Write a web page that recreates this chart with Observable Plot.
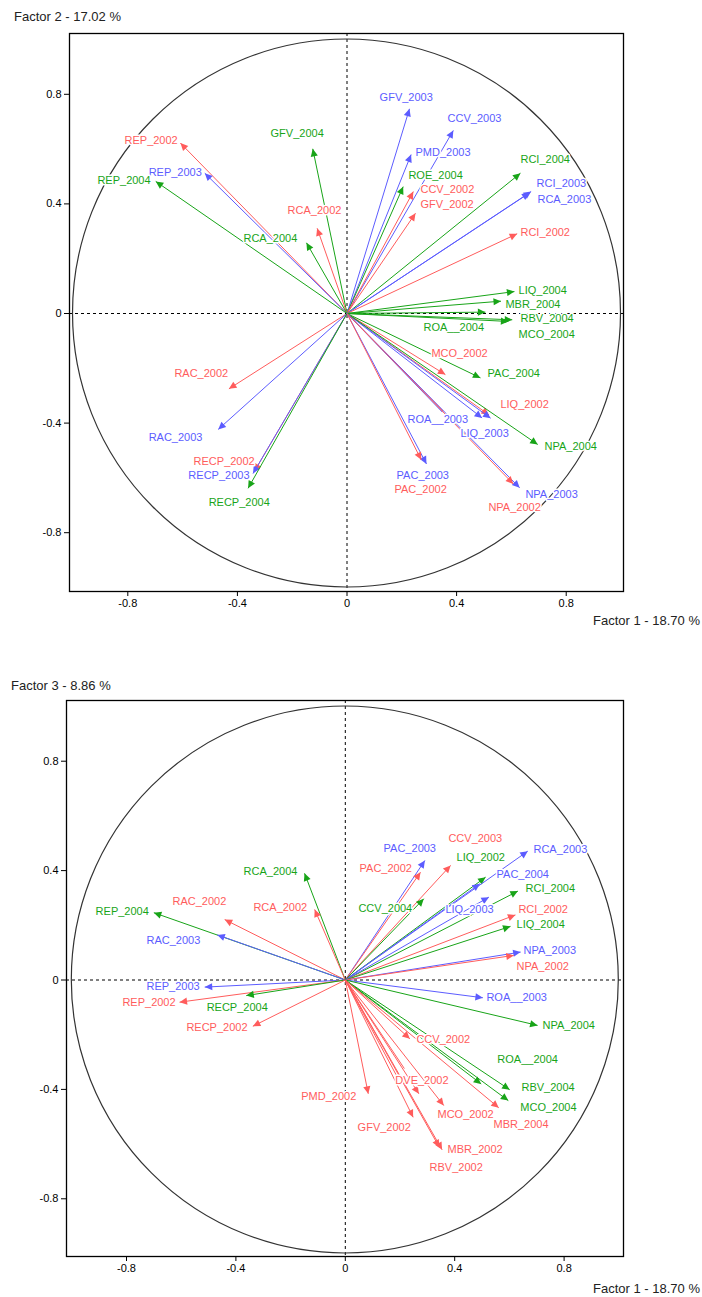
<!DOCTYPE html>
<html><head><meta charset="utf-8">
<script src="https://cdn.jsdelivr.net/npm/d3@7"></script>
<script src="https://cdn.jsdelivr.net/npm/@observablehq/plot@0.6"></script>
<style>
body{margin:0;background:#fff;}
#wrap{position:relative;width:702px;height:1297px;overflow:hidden;font-family:"Liberation Sans",Arial,sans-serif;}
.lab{position:absolute;font-size:13px;color:#222;white-space:nowrap;z-index:2;line-height:15px;}
.chart{position:absolute;left:0;}
</style></head><body>
<div id="wrap">
  <div class="chart" id="c1" style="top:0px"></div>
  <div class="chart" id="c2" style="top:660px"></div>
  <div class="lab" style="left:14px;top:9px">Factor 2 - 17.02 %</div>
  <div class="lab" style="right:2px;top:613px">Factor 1 - 18.70 %</div>
  <div class="lab" style="left:11px;top:678px">Factor 3 - 8.86 %</div>
  <div class="lab" style="right:2px;top:1281px">Factor 1 - 18.70 %</div>
</div>
<script>
// ---------- shared ----------
const groups = ["2002", "2003", "2004"];
const groupColors = ["#ff5c5c", "#5c5cff", "#18a418"];
const tickValues = [-0.8, -0.4, 0, 0.4, 0.8];

// ---------- chart 1 : Factor 1 x Factor 2 ----------
const names1 = ["REP_2002","REP_2003","REP_2004","GFV_2004","RCA_2002","RCA_2004","GFV_2003","CCV_2003","PMD_2003","ROE_2004","CCV_2002","GFV_2002","RCI_2004","RCI_2003","RCA_2003","RCI_2002","LIQ_2004","MBR_2004","ROA__2004","RBV_2004","MCO_2004","MCO_2002","PAC_2004","LIQ_2002","ROA__2003","LIQ_2003","NPA_2004","NPA_2003","NPA_2002","PAC_2003","PAC_2002","RAC_2002","RAC_2003","RECP_2002","RECP_2003","RECP_2004"];
const group1 = ["2002","2003","2004","2004","2002","2004","2003","2003","2003","2004","2002","2002","2004","2003","2003","2002","2004","2004","2004","2004","2004","2002","2004","2002","2003","2003","2004","2003","2002","2003","2002","2002","2003","2002","2003","2004"];
const f1_1 = [-0.608,-0.519,-0.698,-0.125,-0.109,-0.148,0.228,0.388,0.234,0.205,0.242,0.250,0.633,0.672,0.666,0.621,0.611,0.562,0.505,0.603,0.589,0.359,0.487,0.518,0.493,0.524,0.696,0.630,0.607,0.290,0.271,-0.431,-0.470,-0.338,-0.343,-0.361];
const f2_1 = [0.622,0.512,0.482,0.601,0.311,0.258,0.747,0.668,0.580,0.463,0.445,0.366,0.512,0.445,0.440,0.291,0.080,0.045,0.005,-0.023,-0.029,-0.223,-0.235,-0.370,-0.381,-0.382,-0.478,-0.636,-0.622,-0.549,-0.534,-0.275,-0.423,-0.576,-0.584,-0.638];
const labelX1 = [-0.812,-0.724,-0.911,-0.279,-0.217,-0.378,0.119,0.367,0.250,0.224,0.268,0.268,0.633,0.692,0.695,0.633,0.626,0.578,0.279,0.633,0.626,0.308,0.513,0.560,0.221,0.414,0.721,0.651,0.516,0.181,0.173,-0.630,-0.724,-0.560,-0.579,-0.505];
const labelY1 = [0.631,0.515,0.485,0.657,0.376,0.274,0.788,0.713,0.589,0.504,0.451,0.399,0.561,0.473,0.415,0.297,0.084,0.033,-0.051,-0.018,-0.078,-0.145,-0.218,-0.332,-0.387,-0.437,-0.485,-0.661,-0.707,-0.591,-0.642,-0.220,-0.451,-0.540,-0.591,-0.689];
// vectors whose heads are hidden under labels
const hidX1 = [0.352, 0.348];
const hidY1 = [-0.357, -0.360];
const hidG1 = ["2002", "2003"];

// ---------- chart 2 : Factor 1 x Factor 3 ----------
const names2 = ["RCA_2004","RCA_2002","RAC_2002","REP_2004","RAC_2003","REP_2003","REP_2002","RECP_2004","RECP_2002","PAC_2003","PAC_2002","CCV_2003","LIQ_2002","CCV_2004","RCA_2003","PAC_2004","RCI_2004","LIQ_2003","RCI_2002","LIQ_2004","NPA_2003","NPA_2002","ROA__2003","NPA_2004","CCV_2002","ROA__2004","RBV_2004","MCO_2004","MBR_2004","DVE_2002","MCO_2002","GFV_2002","MBR_2002","RBV_2002","PMD_2002"];
const group2 = ["2004","2002","2002","2004","2003","2003","2002","2004","2002","2003","2002","2002","2004","2004","2003","2003","2004","2003","2002","2004","2003","2002","2003","2004","2002","2004","2004","2004","2002","2002","2002","2002","2002","2002","2002"];
const f1_2 = [-0.149,-0.112,-0.441,-0.700,-0.468,-0.514,-0.606,-0.362,-0.338,0.291,0.275,0.385,0.513,0.287,0.667,0.492,0.631,0.525,0.622,0.604,0.641,0.616,0.503,0.703,0.236,0.497,0.601,0.596,0.561,0.269,0.360,0.248,0.354,0.344,0.084];
const f3_2 = [0.390,0.258,0.221,0.246,0.165,-0.026,-0.081,-0.057,-0.169,0.437,0.394,0.419,0.376,0.297,0.471,0.352,0.325,0.303,0.238,0.196,0.102,0.090,-0.065,-0.166,-0.215,-0.380,-0.401,-0.441,-0.467,-0.416,-0.459,-0.502,-0.621,-0.612,-0.416];
const labelX2 = [-0.372,-0.336,-0.632,-0.913,-0.727,-0.727,-0.815,-0.507,-0.581,0.140,0.052,0.377,0.407,0.048,0.688,0.553,0.659,0.366,0.633,0.626,0.652,0.626,0.516,0.721,0.260,0.556,0.644,0.640,0.542,0.183,0.337,0.045,0.374,0.308,-0.161];
const labelY2 = [0.398,0.266,0.287,0.252,0.144,-0.024,-0.081,-0.102,-0.173,0.482,0.407,0.518,0.449,0.263,0.476,0.386,0.333,0.257,0.257,0.202,0.108,0.050,-0.063,-0.166,-0.219,-0.292,-0.394,-0.467,-0.529,-0.367,-0.492,-0.538,-0.620,-0.684,-0.426];
const hidX2 = [0.187, 0.216];
const hidY2 = [-0.349, -0.324];
const hidG2 = ["2002", "2002"];

function corrCircle(cfg) {
  const arrows = cfg.names.map((n, i) => ({name: n, group: cfg.group[i], x: cfg.xs[i], y: cfg.ys[i], lx: cfg.lxs[i], ly: cfg.lys[i]}));
  const hidden = cfg.hx.map((x, i) => ({x, y: cfg.hy[i], group: cfg.hg[i]}));
  const unitCircle = (index, scales) => {
    const cx = scales.x(0), cy = scales.y(0);
    return d3.create("svg:ellipse")
      .attr("cx", cx).attr("cy", cy)
      .attr("rx", scales.x(1) - cx).attr("ry", cy - scales.y(1))
      .attr("fill", "none").attr("stroke", "#333").attr("stroke-width", 1.2)
      .node();
  };
  const svg = Plot.plot({
    width: 702,
    height: cfg.height,
    marginLeft: cfg.ml, marginRight: cfg.mr, marginTop: cfg.mt, marginBottom: cfg.mb,
    x: {domain: cfg.xDomain},
    y: {domain: cfg.yDomain},
    color: {domain: groups, range: groupColors},
    style: {fontFamily: "'Liberation Sans', Arial, sans-serif", fontSize: "11px", color: "black", background: "white", overflow: "visible"},
    marks: [
      Plot.ruleX([0], {stroke: "black", strokeDasharray: "3,3", strokeWidth: 1}),
      Plot.ruleY([0], {stroke: "black", strokeDasharray: "3,3", strokeWidth: 1}),
      unitCircle,
      Plot.link(hidden, {x1: () => 0, y1: () => 0, x2: "x", y2: "y", stroke: "group", strokeWidth: 1}),
      Plot.link(arrows, {x1: () => 0, y1: () => 0, x2: "x", y2: "y", stroke: "group", strokeWidth: 1, markerEnd: "arrow"}),
      Plot.text(arrows, {x: "lx", y: "ly", text: "name", fill: "group", textAnchor: "start", fontSize: 11, stroke: "white", strokeWidth: 3, paintOrder: "stroke", strokeLinejoin: "round"}),
      Plot.frame({stroke: "black", strokeWidth: 1.3}),
      Plot.axisX(tickValues, {anchor: "bottom", tickSize: 5, tickPadding: 3, tickFormat: d => String(d), label: null, fontSize: 11}),
      Plot.axisY(tickValues, {anchor: "left", tickSize: 5, tickPadding: 3, tickFormat: d => String(d), label: null, fontSize: 11})
    ]
  });
  // filled triangular arrowheads
  d3.select(svg).selectAll("marker").each(function () {
    const m = d3.select(this);
    const c = m.attr("stroke");
    m.attr("viewBox", "-9 -5 10 10")
      .attr("markerWidth", 10).attr("markerHeight", 10)
      .attr("markerUnits", "userSpaceOnUse")
      .attr("fill", c).attr("stroke", "none");
    m.selectAll("*").remove();
    m.append("path").attr("d", "M-7.5,-3.6L0,0L-7.5,3.6Z");
  });
  return svg;
}

document.getElementById("c1").appendChild(corrCircle({
  names: names1, group: group1, xs: f1_1, ys: f2_1, lxs: labelX1, lys: labelY1,
  hx: hidX1, hy: hidY1, hg: hidG1,
  height: 640, ml: 69, mr: 79, mt: 33, mb: 49,
  xDomain: [-1.0128, 1.0091], yDomain: [-1.0146, 1.0219]
}));
document.getElementById("c2").appendChild(corrCircle({
  names: names2, group: group2, xs: f1_2, ys: f3_2, lxs: labelX2, lys: labelY2,
  hx: hidX2, hy: hidY2, hg: hidG2,
  height: 637, ml: 66, mr: 79, mt: 40, mb: 41,
  xDomain: [-1.0194, 1.0172], yDomain: [-1.011, 1.022]
}));
</script>
</body></html>
